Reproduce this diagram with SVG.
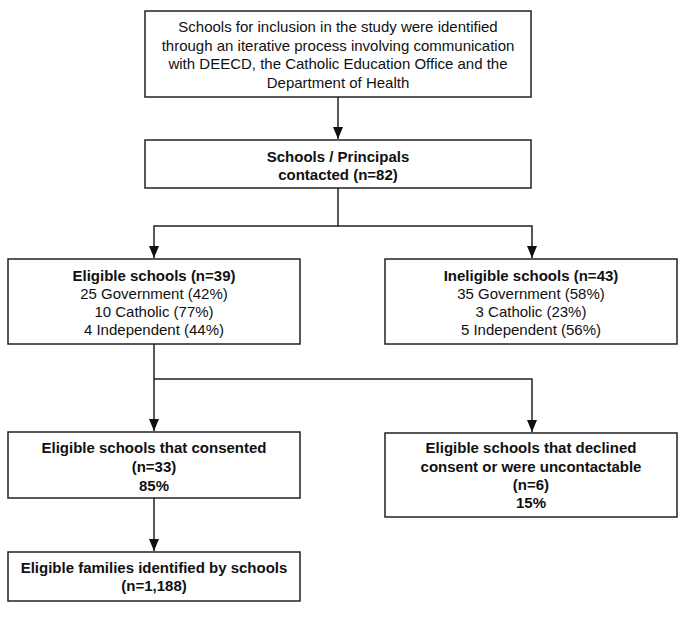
<svg xmlns="http://www.w3.org/2000/svg" width="685" height="620" viewBox="0 0 685 620">
<style>
.box{fill:#fff;stroke:#222;stroke-width:1.5}
.t{font-family:"Liberation Sans",Arial,sans-serif;font-size:15px;fill:#111;text-anchor:middle}
.b{font-weight:bold}
.c{fill:none;stroke:#222;stroke-width:1.5}
</style>
<defs>
<marker id="ah" viewBox="0 0 10 10" refX="10" refY="5" markerWidth="8" markerHeight="8" markerUnits="userSpaceOnUse" orient="auto">
<path d="M0,0 L10,5 L0,10 Z" fill="#111"/>
</marker>
<marker id="arr" viewBox="0 0 12 12" refX="12" refY="6" markerWidth="12" markerHeight="12" markerUnits="userSpaceOnUse" orient="auto">
<path d="M0,1 L12,6 L0,11 Z" fill="#111"/>
</marker>
</defs>
<g id="connectors">
<path class="c" d="M338,97 V139" marker-end="url(#arr)"/>
<path class="c" d="M338,188 V226 H154 V258" marker-end="url(#arr)"/>
<path class="c" d="M338,226 H532 V258" marker-end="url(#arr)"/>
<path class="c" d="M154,344 V431" marker-end="url(#arr)"/>
<path class="c" d="M154,379 H532 V432" marker-end="url(#arr)"/>
<path class="c" d="M154,498 V551" marker-end="url(#arr)"/>
</g>
<g id="n_identify">
<rect class="box" x="145" y="11" width="386" height="86"/>
<text class="t" x="338" y="32">Schools for inclusion in the study were identified</text>
<text class="t" x="338" y="50.5">through an iterative process involving communication</text>
<text class="t" x="338" y="69">with DEECD, the Catholic Education Office and the</text>
<text class="t" x="338" y="87.5">Department of Health</text>
</g>
<g id="n_contacted">
<rect class="box" x="145" y="140" width="386" height="48"/>
<text class="t b" x="338" y="162">Schools / Principals</text>
<text class="t b" x="338" y="180">contacted (n=82)</text>
</g>
<g id="n_eligible">
<rect class="box" x="8" y="259" width="292" height="85"/>
<text class="t b" x="154" y="281">Eligible schools (n=39)</text>
<text class="t" x="154" y="299">25 Government (42%)</text>
<text class="t" x="154" y="317">10 Catholic (77%)</text>
<text class="t" x="154" y="335">4 Independent (44%)</text>
</g>
<g id="n_ineligible">
<rect class="box" x="385" y="259" width="292" height="85"/>
<text class="t b" x="531" y="281">Ineligible schools (n=43)</text>
<text class="t" x="531" y="299">35 Government (58%)</text>
<text class="t" x="531" y="317">3 Catholic (23%)</text>
<text class="t" x="531" y="335">5 Independent (56%)</text>
</g>
<g id="n_consented">
<rect class="box" x="8" y="432" width="292" height="66"/>
<text class="t b" x="154" y="453">Eligible schools that consented</text>
<text class="t b" x="154" y="472">(n=33)</text>
<text class="t b" x="154" y="491">85%</text>
</g>
<g id="n_declined">
<rect class="box" x="385" y="433" width="292" height="84"/>
<text class="t b" x="531" y="453">Eligible schools that declined</text>
<text class="t b" x="531" y="472">consent or were uncontactable</text>
<text class="t b" x="531" y="490">(n=6)</text>
<text class="t b" x="531" y="508">15%</text>
</g>
<g id="n_families">
<rect class="box" x="8" y="552" width="292" height="49"/>
<text class="t b" x="154" y="573">Eligible families identified by schools</text>
<text class="t b" x="154" y="591">(n=1,188)</text>
</g>
</svg>
